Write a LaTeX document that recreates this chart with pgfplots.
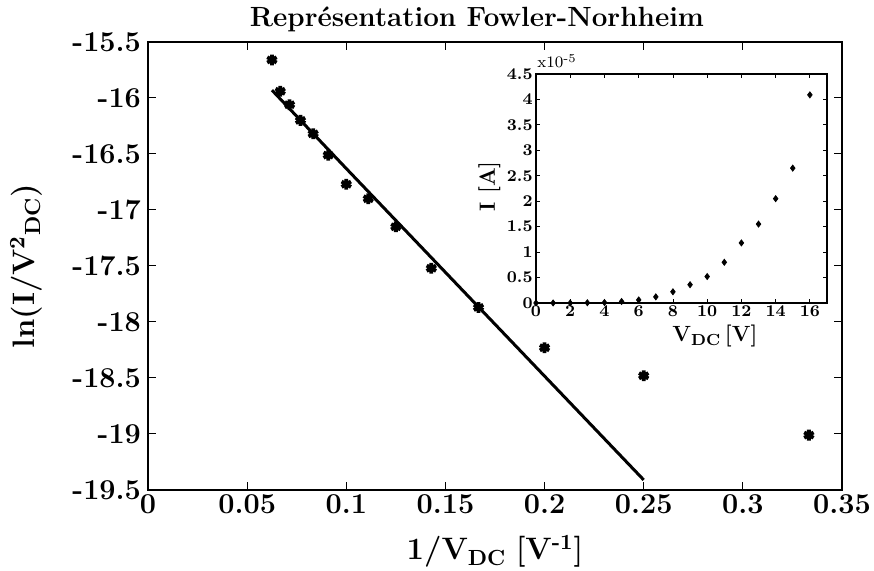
\documentclass[border=0pt]{standalone}
\usepackage{pgfplots}
\pgfplotsset{compat=1.18}
\begin{document}
\begin{tikzpicture}
\begin{axis}[
  scale only axis,
  width=347pt, height=224pt,
  xmin=0, xmax=0.35, ymin=-19.5, ymax=-15.5,
  xtick={0,0.05,0.1,0.15,0.2,0.25,0.3,0.35},
  xticklabels={0,0.05,0.1,0.15,0.2,0.25,0.3,0.35},
  ytick={-19.5,-19,-18.5,-18,-17.5,-17,-16.5,-16,-15.5},
  yticklabels={-19.5,-19,-18.5,-18,-17.5,-17,-16.5,-16,-15.5},
  tick label style={font=\fontsize{14.4}{16}\selectfont\bfseries},
  xticklabel style={yshift=1pt},
  major tick length=3.8pt,
  axis line style={line width=0.7pt},
  every tick/.style={black, line width=0.5pt},
  every axis title shift=0pt,
  title={\textbf{Représentation Fowler-Norhheim}},
  title style={font=\fontsize{13.9}{16}\selectfont, at={(axis description cs:0.474,1)}, anchor=base, yshift=7.5pt},
  xlabel={\textbf{1/V}$_{\mathbf{DC}}$ \textbf{[V\textsuperscript{-1}]}},
  xlabel style={font=\fontsize{15.5}{18}\selectfont, at={(axis description cs:0.5,0)}, anchor=base, yshift=-35pt},
  ylabel={\textbf{ln(I/V}$^{\mathbf{2}}{}_{\mathbf{DC}}$\textbf{)}},
  ylabel style={font=\fontsize{15.5}{18}\selectfont, at={(axis description cs:-0.175,0.5)}, anchor=center},
]
\addplot[black, line width=1.5pt] coordinates {
  (0.0625,-15.93) (0.1,-16.63) (0.25,-19.41)
};
\addplot[only marks, black, mark=asterisk, mark size=2.7pt, mark options={line width=1.9pt}] coordinates {
  (0.0625,-15.66)
  (0.0667,-15.94)
  (0.0714,-16.06)
  (0.0769,-16.20)
  (0.0833,-16.32)
  (0.0909,-16.51)
  (0.1,-16.77)
  (0.1111,-16.90)
  (0.125,-17.15)
  (0.1429,-17.52)
  (0.1667,-17.87)
  (0.2,-18.23)
  (0.25,-18.48)
  (0.3333,-19.01)
};
\end{axis}
\begin{axis}[
  name=inset,
  at={(194pt,93.5pt)}, anchor=south west,
  scale only axis,
  width=145.5pt, height=114.5pt,
  xmin=0, xmax=17, ymin=0, ymax=4.5,
  axis background/.style={fill=white},
  xtick={0,2,4,6,8,10,12,14,16},
  xticklabels={0,2,4,6,8,10,12,14,16},
  ytick={0,0.5,1,1.5,2,2.5,3,3.5,4,4.5},
  yticklabels={0,0.5,1,1.5,2,2.5,3,3.5,4,4.5},
  tick label style={font=\fontsize{8.2}{9}\selectfont\bfseries},
  xticklabel style={inner sep=1pt},
  yticklabel style={inner sep=1.5pt},
  major tick length=1.8pt,
  axis line style={line width=0.7pt},
  every tick/.style={black, line width=0.4pt},
  xlabel={\textbf{V}$_{\mathbf{DC}}$\,\textbf{[V]}},
  xlabel style={font=\fontsize{11}{13}\selectfont, at={(axis description cs:0.615,0)}, anchor=base, yshift=-19.5pt},
  ylabel={\textbf{I [A]}},
  ylabel style={font=\fontsize{11}{13}\selectfont, at={(axis description cs:-0.16,0.51)}, anchor=center},
]
\addplot[only marks, black, mark=diamond*, mark size=1.5pt] coordinates {
  (0,0) (1,0) (2,0) (3,0.005) (4,0.01) (5,0.03) (6,0.06) (7,0.12)
  (8,0.22) (9,0.36) (10,0.52) (11,0.80) (12,1.18) (13,1.55)
  (14,2.05) (15,2.65) (16,4.09)
};
\end{axis}
\node[anchor=base west, font=\fontsize{8}{9}\selectfont, inner sep=0pt, yshift=3pt, xshift=0.5pt] at (inset.north west) {x10\textsuperscript{-5}};
\pgfresetboundingbox
\path (-74pt,-40.5pt) rectangle (363pt,245pt);
\end{tikzpicture}
\end{document}
